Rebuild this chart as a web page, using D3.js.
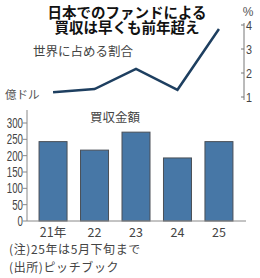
<!DOCTYPE html>
<html><head><meta charset="utf-8">
<script src="https://cdn.jsdelivr.net/npm/d3@7"></script>
<style>
html,body{margin:0;padding:0;background:#fff;}
svg{display:block;font-family:"Noto Sans CJK JP","Noto Sans",sans-serif;}
.num{font-family:"Liberation Sans Narrow","Liberation Sans",Arial,sans-serif;}
</style></head>
<body>
<svg id="c" width="260" height="278"></svg>
<script>
const years = ["21年","22","23","24","25"];
const dealAmounts = [243, 217, 272, 193, 243];
const globalShare = [1.2, 1.33, 2.17, 1.3, 3.83];
const barTicks = [0, 50, 100, 150, 200, 250, 300];
const shareTicks = [1, 2, 3, 4];
const titleLines = ["日本でのファンドによる", "買収は早くも前年超え"];
const notes = ["(注)25年は5月下旬まで", "(出所)ピッチブック"];

const svg = d3.select("#c");

// title
svg.selectAll("text.title").data(titleLines).join("text")
  .attr("class","title")
  .attr("x",127).attr("y",(d,i)=>18+i*14.5)
  .attr("text-anchor","middle")
  .attr("font-size",14.5).attr("font-weight","bold").attr("fill","#111")
  .text(d=>d);

const x = d3.scaleBand().domain(years).range([32,240]).paddingInner(0.325).paddingOuter(0.17);

// line chart (share)
const yS = d3.scaleLinear().domain([1,4]).range([97,25]);
svg.append("line").attr("x1",244).attr("x2",244).attr("y1",23).attr("y2",100)
  .attr("stroke","#777").attr("stroke-width",1);
const rt = svg.append("g");
shareTicks.forEach(t=>{
  rt.append("line").attr("x1",241).attr("x2",244).attr("y1",yS(t)).attr("y2",yS(t)).attr("stroke","#777");
  rt.append("text").attr("class","num").attr("x",246).attr("y",yS(t)+4.5).attr("font-size",13).attr("fill","#444")
    .attr("textLength",6).attr("lengthAdjust","spacingAndGlyphs").text(t);
});
svg.append("text").attr("class","num").attr("x",248).attr("y",16).attr("text-anchor","middle").attr("font-size",12).attr("fill","#555").text("%");
svg.append("text").attr("x",33).attr("y",56).attr("font-size",12.5).attr("fill","#444").text("世界に占める割合");

const line = d3.line().x((d,i)=>x(years[i])+x.bandwidth()/2).y(d=>yS(d));
svg.append("path").datum(globalShare).attr("d",line)
  .attr("fill","none").attr("stroke","#1e3f60").attr("stroke-width",2.5).attr("stroke-linejoin","miter");

// bar chart
const yB = d3.scaleLinear().domain([0,300]).range([221,123]);
svg.append("text").attr("x",5).attr("y",99).attr("font-size",11.5).attr("fill","#555").text("億ドル");
svg.append("text").attr("x",115).attr("y",122).attr("text-anchor","middle").attr("font-size",12.5).attr("fill","#444").text("買収金額");

svg.selectAll("rect.bar").data(dealAmounts).join("rect")
  .attr("class","bar")
  .attr("x",(d,i)=>x(years[i])).attr("width",x.bandwidth())
  .attr("y",d=>yB(d)).attr("height",d=>yB(0)-yB(d))
  .attr("fill","#4777a6").attr("stroke","#4a4f57").attr("stroke-width",1);

svg.append("line").attr("x1",27).attr("x2",27).attr("y1",110).attr("y2",221).attr("stroke","#888");
svg.append("line").attr("x1",27).attr("x2",246).attr("y1",221).attr("y2",221).attr("stroke","#888");
barTicks.forEach(t=>{
  svg.append("line").attr("x1",23).attr("x2",27).attr("y1",yB(t)).attr("y2",yB(t)).attr("stroke","#888");
  const s = String(t);
  svg.append("text").attr("class","num").attr("x",23).attr("y",yB(t)+5).attr("text-anchor","end")
    .attr("font-size",14).attr("fill","#444")
    .attr("textLength",s.length*5.4).attr("lengthAdjust","spacingAndGlyphs").text(s);
});
years.forEach(yv=>{
  svg.append("text").attr("x",x(yv)+x.bandwidth()/2).attr("y",237).attr("text-anchor","middle")
    .attr("font-size",12.5).attr("fill","#444").text(yv);
});

svg.selectAll("text.note").data(notes).join("text")
  .attr("class","note").attr("x",9).attr("y",(d,i)=>254+i*17.5)
  .attr("font-size",12).attr("letter-spacing",0.6).attr("fill","#444").text(d=>d);
</script>
</body></html>
